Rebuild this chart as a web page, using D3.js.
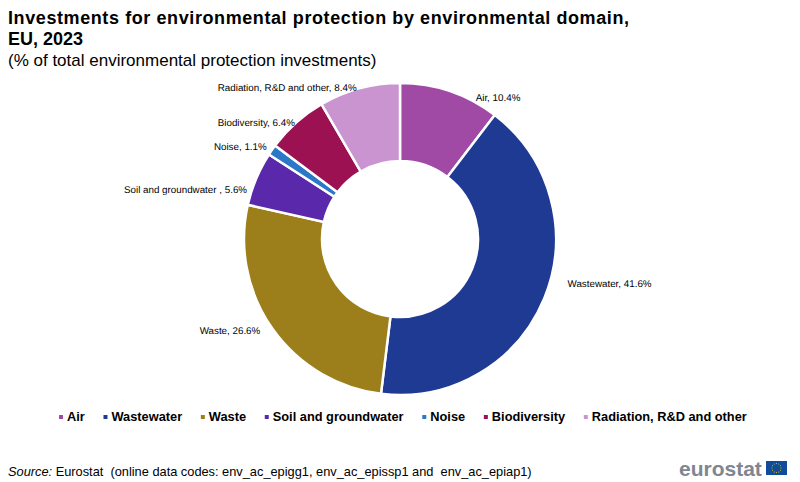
<!DOCTYPE html>
<html>
<head>
<meta charset="utf-8">
<script src="https://cdn.jsdelivr.net/npm/d3@7"></script>
<style>
  html, body { margin: 0; padding: 0; background: #fff; }
  text { font-family: "Liberation Sans", Arial, sans-serif; fill: #000; }
</style>
</head>
<body>
<svg id="chart" width="800" height="482"></svg>
<script>
const categories = ["Air", "Wastewater", "Waste", "Soil and groundwater", "Noise", "Biodiversity", "Radiation, R&D and other"];
const labelNames = ["Air", "Wastewater", "Waste", "Soil and groundwater ", "Noise", "Biodiversity", "Radiation, R&D and other"];
const shares = [10.4, 41.6, 26.6, 5.6, 1.1, 6.4, 8.4];
const colours = ["#a04aa6", "#1f3a93", "#9c7f1a", "#5a28ab", "#2a78c6", "#9b1152", "#c994cf"];

const svg = d3.select("#chart");
const cx = 400, cy = 239, outerR = 156, innerR = 78;

// titles
svg.append("text").attr("x", 8).attr("y", 24).attr("font-size", 18).attr("font-weight", "bold")
  .attr("textLength", 621).attr("lengthAdjust", "spacing")
  .text("Investments for environmental protection by environmental domain,");
svg.append("text").attr("x", 8).attr("y", 45).attr("font-size", 18).attr("font-weight", "bold").text("EU, 2023");
svg.append("text").attr("x", 8).attr("y", 66).attr("font-size", 17)
  .text("(% of total environmental protection investments)");

// ring
const pie = d3.pie().sort(null).value((d, i) => shares[i]);
const arc = d3.arc().innerRadius(innerR).outerRadius(outerR);
const slices = pie(categories);
const ring = svg.append("g").attr("transform", `translate(${cx},${cy})`);

ring.selectAll("path").data(slices).enter().append("path")
  .attr("d", arc)
  .attr("fill", (d, i) => colours[i])
  .attr("stroke", "#fff")
  .attr("stroke-width", 2.5);

// label nudges from the rim point of each slice, Excel places these by hand
const nudges = [[26, 6], [24, -13], [-13, 3], [-10, 11], [-6, -3], [-2, 0], [-3, -1]];

ring.selectAll("text").data(slices).enter().append("text")
  .attr("font-size", 9.8)
  .attr("text-rendering", "geometricPrecision")
  .attr("dominant-baseline", "middle")
  .attr("text-anchor", (d, i) => i < 2 ? "start" : "end")
  .attr("x", (d, i) => Math.sin((d.startAngle + d.endAngle) / 2) * 155 + nudges[i][0])
  .attr("y", (d, i) => -Math.cos((d.startAngle + d.endAngle) / 2) * 155 + nudges[i][1])
  .text((d, i) => `${labelNames[i]}, ${shares[i].toFixed(1)}%`);

// legend
const legend = svg.append("g");
let legendX = 59;
categories.forEach((name, i) => {
  legend.append("rect").attr("x", legendX).attr("y", 415).attr("width", 4).attr("height", 4).attr("fill", colours[i]);
  const t = legend.append("text").attr("x", legendX + 8).attr("y", 421).attr("font-size", 12.8).attr("font-weight", "bold").text(name);
  legendX += 8 + t.node().getComputedTextLength() + 18.7;
});

// source
const source = svg.append("text").attr("x", 8).attr("y", 476).attr("font-size", 12.8);
source.append("tspan").attr("font-style", "italic").text("Source:");
source.append("tspan").attr("xml:space", "preserve").style("white-space", "pre")
  .text(" Eurostat  (online data codes: env_ac_epigg1, env_ac_epissp1 and  env_ac_epiap1)");

// logo
svg.append("text").attr("x", 679).attr("y", 476).attr("font-size", 21).attr("font-weight", "bold")
  .style("fill", "#7f8691").text("eurostat");
svg.append("rect").attr("x", 766).attr("y", 461).attr("width", 21).attr("height", 14).attr("fill", "#0f4c9c");
const stars = d3.range(12).map(i => i * Math.PI / 6);
svg.selectAll("circle.star").data(stars).enter().append("circle").attr("class", "star")
  .attr("cx", d => 776.5 + Math.cos(d) * 4.5)
  .attr("cy", d => 468 + Math.sin(d) * 4.5)
  .attr("r", 0.5)
  .attr("fill", "#f2d21f");
</script>
</body>
</html>
